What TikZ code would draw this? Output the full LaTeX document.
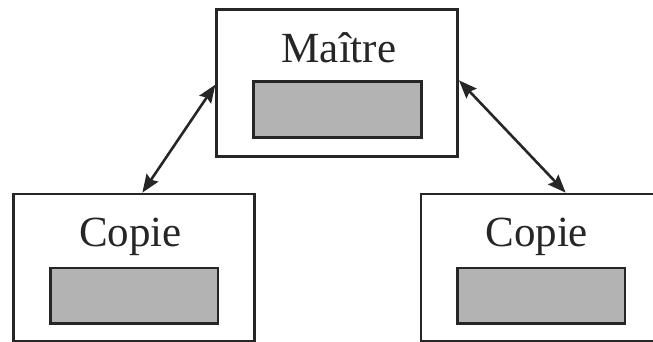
\documentclass[tikz,border=0pt]{standalone}
\usepackage{fontspec}
\setmainfont{Liberation Serif}
\usetikzlibrary{arrows.meta,calc}
\definecolor{ink}{HTML}{262626}
\definecolor{slot}{HTML}{B3B3B3}
\tikzset{
  unitbox/.style={draw=ink, line width=2.7pt, fill=white, minimum width=241pt, minimum height=147.4pt, inner sep=0pt},
  slotbox/.style={draw=ink, line width=2.7pt, fill=slot, minimum width=167.5pt, minimum height=55.6pt, inner sep=0pt},
  label/.style={text=ink, font=\fontsize{43pt}{43pt}\selectfont, anchor=base, inner sep=0pt},
  tip/.style={Stealth[length=18pt,width=14pt,inset=2.5pt]},
  link/.style={draw=ink, line width=2.6pt, {Stealth[length=18pt,width=14pt,inset=2.5pt]}-{Stealth[length=18pt,width=14pt,inset=2.5pt]}}
}
\begin{document}
\begin{tikzpicture}[x=1pt,y=-1pt]
  \useasboundingbox (0,0) rectangle (653,341);
  % master unit
  \node[unitbox] (master) at (337.2,83) {};
  \node[slotbox] (mslot) at (337.5,109.5) {};
  \node[label] (mtext) at (339,62.7) {Maître};
  % left copy
  \node[unitbox] (left) at (134.2,267.7) {};
  \node[slotbox] (lslot) at (134.2,295.7) {};
  \node[label] (ltext) at (130.5,246.7) {Copie};
  % right copy
  \node[unitbox] (right) at (541.5,267.7) {};
  \node[slotbox] (rslot) at (541.2,295.7) {};
  \node[label] (rtext) at (536.7,246.7) {Copie};
  % attachment points on the borders
  \coordinate (mw) at ($(master.north west)+(0,76.7)$);
  \coordinate (me) at ($(master.north east)+(0,72.4)$);
  \coordinate (lt) at ($(left.north west)+(130,0)$);
  \coordinate (rt) at ($(right.north west)+(146,0)$);
  \draw[link] (lt) -- (mw);
  \draw[link] (me) -- (rt);
\end{tikzpicture}
\end{document}
